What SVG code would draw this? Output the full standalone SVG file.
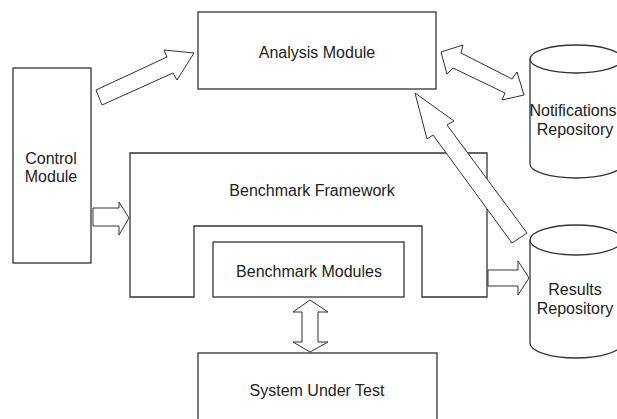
<svg xmlns="http://www.w3.org/2000/svg" width="617" height="419" viewBox="0 0 617 419">
<style>
.box{fill:#fff;stroke:#333;stroke-width:1.3}
.arr{fill:#fff;stroke:#333;stroke-width:1;stroke-linejoin:miter}
text{font-family:"Liberation Sans",Arial,sans-serif;font-size:16px;fill:#222;text-anchor:middle}
</style>
<rect width="617" height="419" fill="#fff"/>
<g id="control-module">
<rect class="box" x="13" y="68" width="78" height="195"/>
<text x="51" y="164">Control</text>
<text x="51" y="182">Module</text>
</g>
<g id="analysis-module">
<rect class="box" x="198" y="12" width="238" height="77"/>
<text x="317" y="58">Analysis Module</text>
</g>
<g id="benchmark-framework">
<path class="box" d="M130,153 H487 V297 H422 V226 H194 V297 H130 Z"/>
<text x="312" y="196">Benchmark Framework</text>
</g>
<g id="benchmark-modules">
<rect class="box" x="213" y="242" width="191" height="55"/>
<text x="309" y="277">Benchmark Modules</text>
</g>
<g id="system-under-test">
<rect class="box" x="198" y="353" width="239" height="80"/>
<text x="317" y="396">System Under Test</text>
</g>
<g id="notifications-repository">
<path class="box" d="M530,59 V164 A46,14 0 0 0 622,164 V59"/>
<ellipse class="box" cx="576" cy="59" rx="46" ry="14"/>
<text x="573" y="116">Notifications</text>
<text x="575" y="135">Repository</text>
</g>
<g id="results-repository">
<path class="box" d="M530,240 V343 A46,15 0 0 0 622,343 V240"/>
<ellipse class="box" cx="576" cy="240" rx="46" ry="15"/>
<text x="575" y="295">Results</text>
<text x="575" y="314">Repository</text>
</g>
<g id="connectors">
<polygon class="arr" points="96,90 167,57 164,50 194,53 177,80 173,73 102,105"/>
<polygon class="arr" points="93,208 119,208 119,202 129,218 119,235 119,226 93,226"/>
<polygon class="arr" points="488,270 518,270 518,261 529,278 518,295 518,286 488,286"/>
<polygon class="arr" points="512,243 433,135 427,139 415,93 454,121 447,125 527,233"/>
<polygon class="arr" points="441,52 463,45 461,53 512,79 517,72 524,95 502,100 505,93 453,68 447,74"/>
<polygon class="arr" points="310,300 328,312 318,312 318,342 328,342 310,352 293,342 302,342 302,312 293,312"/>
</g>
</svg>
